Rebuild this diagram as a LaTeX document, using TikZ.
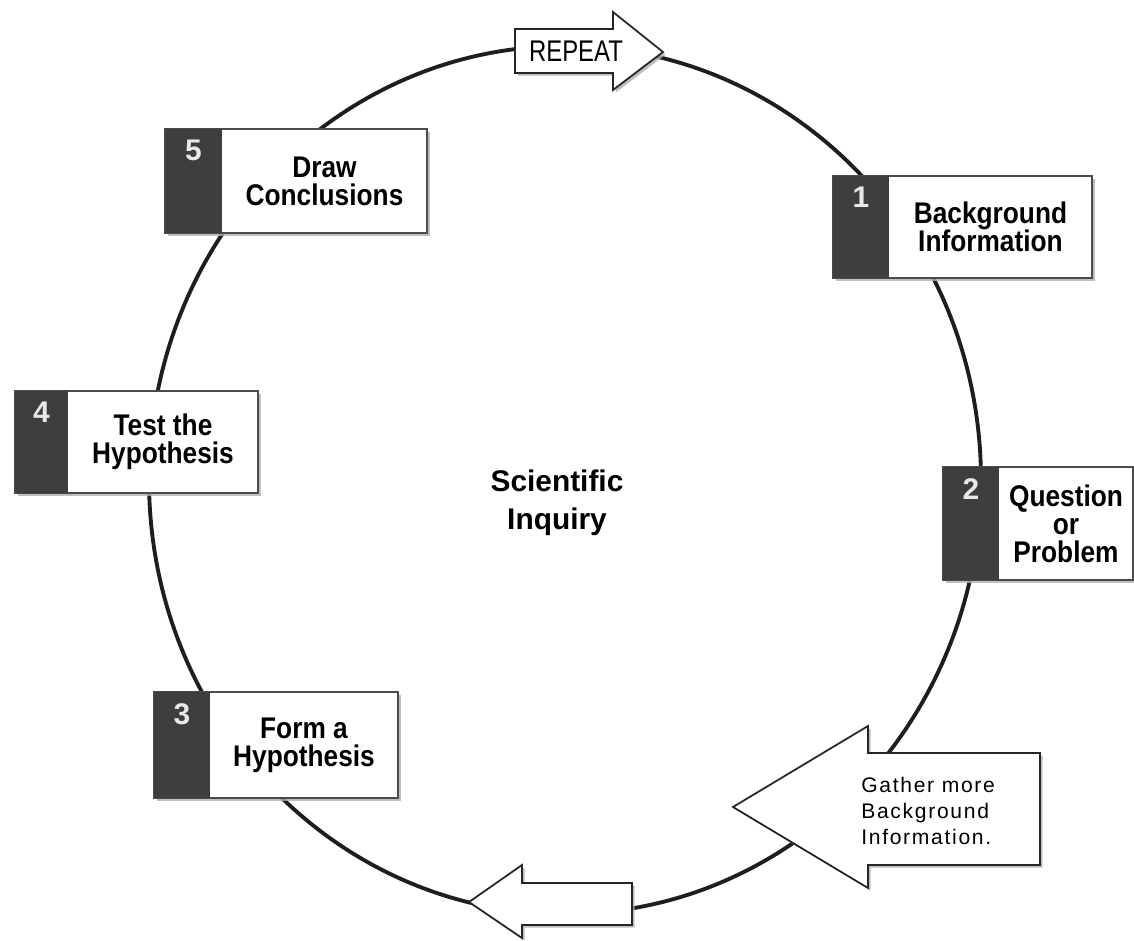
\documentclass[tikz,border=0pt]{standalone}
\usepackage{fontspec}
\setmainfont{Liberation Sans}
\newfontfamily\narrowfont[FakeStretch=0.88]{Liberation Sans}
\newfontfamily\repeatfont[FakeStretch=0.8]{Liberation Sans}
\newfontfamily\spacedfont[LetterSpace=8]{Liberation Sans}
\usetikzlibrary{positioning,calc,shadows}
\definecolor{ringline}{RGB}{30,30,30}
\definecolor{panel}{RGB}{62,62,62}
\definecolor{edge}{RGB}{75,75,75}
\definecolor{shade}{RGB}{175,175,175}
\definecolor{digit}{RGB}{232,232,232}

\tikzset{
  ring/.style={line width=2.2pt, ringline},
  card/.style={draw=edge, line width=1pt, fill=white,
    drop shadow={shadow xshift=1.5pt, shadow yshift=-1.5pt, fill=shade, opacity=0.8}},
  flow/.style={draw=black!85, line width=1pt, fill=white, line join=miter,
    drop shadow={shadow xshift=1.5pt, shadow yshift=-1.5pt, fill=shade, opacity=0.8}},
  steptext/.style={align=center, inner sep=0pt,
    font={\narrowfont\bfseries\fontsize{17}{16}\selectfont}},
  numtext/.style={inner sep=0pt, text=digit, font={\bfseries\fontsize{17}{17}\selectfont}},
}

\begin{document}
\begin{tikzpicture}[x=0.02cm, y=-0.02cm]

    \useasboundingbox (0,0) rectangle (1134,941);

    % Centre et rayons du cycle
    \def\ringX{565}
    \def\ringY{480}
    \def\ringRx{416}
    \def\ringRy{434}

    % =========================================================================
    % CYCLE
    % =========================================================================
    \draw[ring] (\ringX,\ringY) ellipse [x radius=\ringRx, y radius=\ringRy];

    \node[align=center, inner sep=0pt, font={\bfseries\fontsize{17}{21.5}\selectfont}]
        (inquiry) at (557,503) {Scientific\\Inquiry};

    % =========================================================================
    % ETAPES 1 A 5
    % =========================================================================
    \foreach \n/\xa/\xb/\xc/\ya/\yb/\txt in {
        1/833/889/1092/176/278/{Background\\Information},
        2/943/999/1133/467/580/{Question\\or\\Problem},
        3/154/210/398/692/798/{Form a\\Hypothesis},
        4/15/68/258/391/493/{Test the\\Hypothesis},
        5/165/222/427/129/233/{Draw\\Conclusions}}
    {
        \path[card] (\xa,\ya) rectangle (\xc,\yb);
        \fill[panel] (\xa,\ya) rectangle (\xb,\yb);
        \node[steptext] (step\n) at ({(\xb+\xc)/2},{(\ya+\yb)/2}) {\txt};
        \node[numtext, anchor=north] (num\n) at ({(\xa+\xb)/2},{\ya+11}) {\n};
    }

    % =========================================================================
    % FLECHES
    % =========================================================================

    % Repeat
    \path[flow] (515,29) -- (613,29) -- (613,12) -- (663,52)
        -- (613,90) -- (613,73) -- (515,73) -- cycle;
    \node[inner sep=0pt, font={\repeatfont\fontsize{17}{17}\selectfont}]
        (repeat) at (576,51) {REPEAT};

    % Retour vers l'information
    \path[flow] (733,807) -- (868,726) -- (868,753) -- (1040,753)
        -- (1040,865) -- (868,865) -- (868,888) -- cycle;
    \node[anchor=west, align=left, inner sep=0pt,
        font={\spacedfont\fontsize{12}{14.7}\selectfont}]
        (gather) at (861,811) {Gather more\\Background\\Information.};

    % Petite fleche du bas
    \path[flow] (469,902) -- (522,865) -- (522,883) -- (632,883)
        -- (632,925) -- (522,925) -- (522,938) -- cycle;

\end{tikzpicture}
\end{document}
